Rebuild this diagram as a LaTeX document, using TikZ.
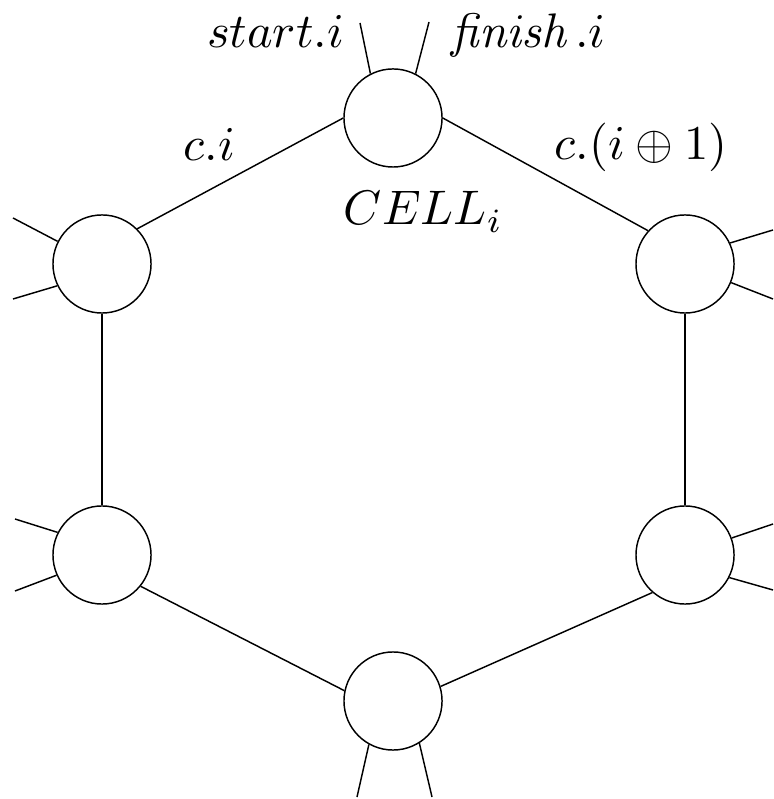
\documentclass[tikz,border=0pt]{standalone}
\begin{document}
\begin{tikzpicture}[x=0.206pt,y=-0.206pt,
  cell/.style={draw,circle,minimum size=20.2pt,inner sep=0pt,line width=0.3pt},
  wire/.style={line width=0.3pt},
  lbl/.style={inner sep=0pt,font=\fontsize{10}{12}\selectfont}]
\useasboundingbox (0,0) rectangle (773,799);
% the six cells of the ring
\node[cell] (T)  at (393,118) {};
\node[cell] (UL) at (102,264) {};
\node[cell] (UR) at (685,264) {};
\node[cell] (LL) at (102,555) {};
\node[cell] (LR) at (685,555) {};
\node[cell] (B)  at (393,701) {};
% ring connections
\draw[wire] (T.180) -- (UL.45);
\draw[wire] (T.0) -- (UR.138);
\draw[wire] (UL.south) -- (LL.north);
\draw[wire] (UR.south) -- (LR.north);
\draw[wire] (LL.-39) -- (B.168);
\draw[wire] (LR.229) -- (B.17);
% free ends of the external wires
\coordinate (ts) at (360,23);
\coordinate (tf) at (429,22);
\coordinate (ula) at (13,218);
\coordinate (ulb) at (13,299);
\coordinate (ura) at (773,230);
\coordinate (urb) at (773,299);
\coordinate (lla) at (15,519);
\coordinate (llb) at (15,591);
\coordinate (lra) at (773,524);
\coordinate (lrb) at (773,590);
\coordinate (bl) at (357,797);
\coordinate (br) at (432,797);
% external wires
\draw[wire] (T.117) -- (ts);
\draw[wire] (T.63) -- (tf);
\draw[wire] (UL.153) -- (ula);
\draw[wire] (UL.206) -- (ulb);
\draw[wire] (UR.25) -- (ura);
\draw[wire] (UR.-22) -- (urb);
\draw[wire] (LL.153) -- (lla);
\draw[wire] (LL.204) -- (llb);
\draw[wire] (LR.20) -- (lra);
\draw[wire] (LR.-27) -- (lrb);
\draw[wire] (B.241) -- (bl);
\draw[wire] (B.-58) -- (br);
% labels
\node[lbl,anchor=base east] (ls) at (345,48) {$start.i$};
\node[lbl,anchor=base west] (lf) at (451,48) {$\mathit{finish}\mkern2mu.i$};
\node[lbl,anchor=base west] (lc) at (183,161) {$c.i$};
\node[lbl,anchor=base west] (lc1) at (554,160) {$c.(i\oplus 1)$};
\node[lbl,anchor=base west] (lcell) at (343,225) {$CELL_i$};
\end{tikzpicture}
\end{document}
